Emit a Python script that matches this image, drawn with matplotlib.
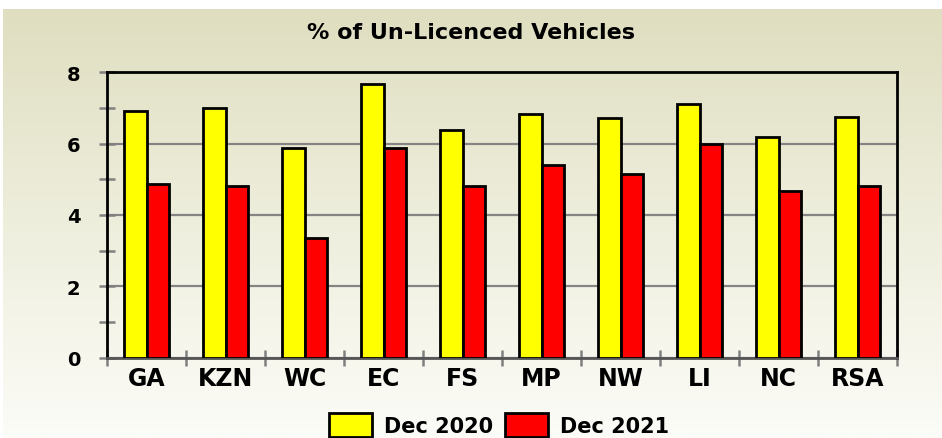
import numpy as np
import matplotlib
matplotlib.use("Agg")
import matplotlib.pyplot as plt
from matplotlib.colors import LinearSegmentedColormap
from matplotlib.ticker import MultipleLocator

plt.rcParams["font.family"] = ["DejaVu Sans"]
plt.rcParams["font.weight"] = "bold"

regions = ["GA", "KZN", "WC", "EC", "FS", "MP", "NW", "LI", "NC", "RSA"]
dec_2020 = [6.91, 6.99, 5.89, 7.68, 6.37, 6.83, 6.73, 7.10, 6.19, 6.75]
dec_2021 = [4.88, 4.82, 3.36, 5.88, 4.81, 5.39, 5.16, 5.99, 4.67, 4.81]
series_labels = ["Dec 2020", "Dec 2021"]

fig = plt.figure(figsize=(9.42, 4.39), dpi=100, facecolor="white")

# olive-to-white vertical gradient behind everything
bg = fig.add_axes([3 / 942, 0, 1 - 3 / 942, 429 / 439], zorder=-10)
grad = np.linspace(0, 1, 256).reshape(-1, 1)
cmap = LinearSegmentedColormap.from_list(
    "bg", ["#fcfcf8", "#eeeedd", "#dfdec0"])
bg.imshow(grad, aspect="auto", cmap=cmap, origin="lower",
          extent=[0, 1, 0, 1])
bg.set_axis_off()

ax = fig.add_axes([107 / 942, 80.4 / 439, 790 / 942, 285.3 / 439])
ax.patch.set_alpha(0)

x = np.arange(len(regions))
w = 0.285
ax.bar(x - w / 2, dec_2020, w, color="#ffff00", edgecolor="black",
       linewidth=2, label=series_labels[0], zorder=3)
ax.bar(x + w / 2, dec_2021, w, color="#ff0000", edgecolor="black",
       linewidth=2, label=series_labels[1], zorder=3)

ax.set_xlim(-0.5, len(regions) - 0.5)
ax.set_ylim(0, 8)
ax.yaxis.set_major_locator(MultipleLocator(2))
ax.yaxis.set_minor_locator(MultipleLocator(1))
ax.yaxis.grid(True, color="#858585", linewidth=1.6, zorder=1)

# category labels centred, ticks at the boundaries
ax.set_xticks(x)
ax.set_xticklabels(regions, fontsize=17, fontweight="bold")
ax.set_xticks(np.arange(len(regions) + 1) - 0.5, minor=True)
ax.tick_params(axis="x", which="major", length=0, pad=6)
ax.tick_params(axis="x", which="minor", direction="inout", length=11,
               width=1.8, color="#808080")
ax.tick_params(axis="y", which="both", direction="inout", length=12,
               width=1.8, color="#808080", labelsize=14, pad=13)
for lbl in ax.get_yticklabels():
    lbl.set_fontweight("bold")

for side in ["top", "right", "left"]:
    ax.spines[side].set_color("black")
    ax.spines[side].set_linewidth(2)
ax.spines["bottom"].set_color("#555555")
ax.spines["bottom"].set_linewidth(2)

fig.text(0.5, 1 - 33 / 439, "% of Un-Licenced Vehicles", ha="center",
         va="center", fontsize=16, fontweight="bold")

fig.legend(loc="center", bbox_to_anchor=(499 / 942, 1 - 426 / 439), ncol=2,
           frameon=False, handlelength=2.1, handleheight=1.45,
           handletextpad=0.58, columnspacing=0.53,
           prop={"weight": "bold", "size": 15})

fig.savefig("out.png", dpi=100, facecolor=fig.get_facecolor())
